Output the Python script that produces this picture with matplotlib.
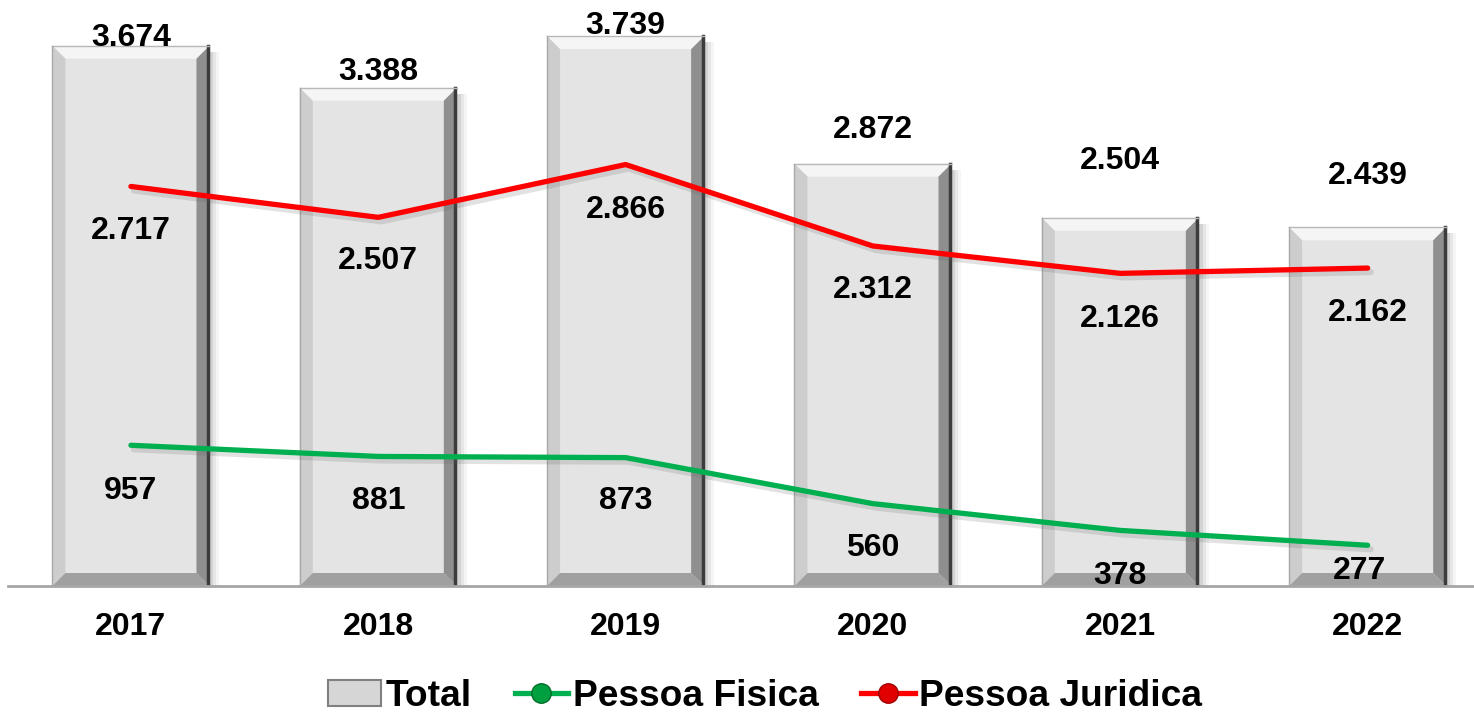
import matplotlib
matplotlib.use("Agg")
import matplotlib.pyplot as plt
from matplotlib.patches import Polygon, Rectangle
from matplotlib.lines import Line2D
import numpy as np

# dados
anos = ["2017", "2018", "2019", "2020", "2021", "2022"]
total = [3674, 3388, 3739, 2872, 2504, 2439]
pessoa_fisica = [957, 881, 873, 560, 378, 277]
pessoa_juridica = [2717, 2507, 2866, 2312, 2126, 2162]

# deslocamento vertical do centro dos rotulos (pixels)
off_total = [11, 19.5, 13.5, 37, 60, 55]
off_pf = [-42, -41, -40, -41, -42, -22]
off_pj = [-41, -40, -42, -40, -42, -41]


def fmt(v):
    return f"{v:,}".replace(",", ".")


plt.rcParams['font.family'] = ['Liberation Sans', 'DejaVu Sans']
plt.rcParams['font.weight'] = 'bold'

W, H = 1474, 712
fig = plt.figure(figsize=(W / 100, H / 100), dpi=100)
ax = fig.add_axes([8 / W, 126 / H, 1 - 8 / W, 586 / H])

x = np.arange(len(anos))
ax.set_xlim(-0.497, 5.43)
ax.set_ylim(0, 3985)

# escala px -> dados
px_x = (5.43 + 0.497) / (W - 8)
px_y = 3985 / 586.0

largura = 0.635
bev_x = 13 * px_x
bev_y = 13 * px_y

for xi, v in zip(x, total):
    l, r = xi - largura / 2, xi + largura / 2
    # sombra
    for k, a in [(10, 0.08), (7, 0.12), (4, 0.18)]:
        ax.add_patch(Rectangle((l + k * px_x, -2 * px_y), largura, v - 4 * px_y,
                               facecolor='#808080', alpha=a, lw=0, zorder=1))
    ax.bar(xi, v, width=largura, color='#e4e4e4', lw=0, zorder=2)
    # chanfros
    top = Polygon([(l, v), (r, v), (r - bev_x, v - bev_y), (l + bev_x, v - bev_y)],
                  facecolor='#f5f5f5', lw=0, zorder=3)
    esq = Polygon([(l, v), (l + bev_x, v - bev_y), (l + bev_x, bev_y), (l, 0)],
                  facecolor='#cdcdcd', lw=0, zorder=3)
    dir_ = Polygon([(r, v), (r - bev_x, v - bev_y), (r - bev_x, bev_y), (r, 0)],
                   facecolor='#8f8f8f', lw=0, zorder=3)
    baixo = Polygon([(l, 0), (r, 0), (r - bev_x, bev_y), (l + bev_x, bev_y)],
                    facecolor='#a0a0a0', lw=0, zorder=3)
    for p in (top, esq, dir_, baixo):
        ax.add_patch(p)
    ax.plot([r - 1.5 * px_x, r - 1.5 * px_x], [0, v], color='#3c3c3c', lw=2.5, zorder=4)
    ax.plot([l, r], [v, v], color='#b8b8b8', lw=1, zorder=4)
    ax.plot([l, l], [0, v], color='#a8a8a8', lw=1, zorder=4)

# linhas com sombra leve
for serie, cor in [(pessoa_fisica, '#00b050'), (pessoa_juridica, '#ff0000')]:
    ax.plot(x + 3 * px_x, np.array(serie) - 4 * px_y, color='#606060', alpha=0.18,
            lw=4.5, solid_capstyle='round', zorder=5)
    ax.plot(x, serie, color=cor, lw=3.8, solid_capstyle='round', zorder=6)

fs = 23
cap = 11.5  # metade da altura dos digitos em px
for xi, v, o in zip(x, total, off_total):
    ax.text(xi, v + (o - cap) * px_y, fmt(v), ha='center', va='baseline', fontsize=fs,
            fontweight='bold', zorder=7)
for xi, v, o in zip(x, pessoa_juridica, off_pj):
    ax.text(xi, v + (o - cap) * px_y, fmt(v), ha='center', va='baseline', fontsize=fs,
            fontweight='bold', zorder=7)
for xi, v, o in zip(x, pessoa_fisica, off_pf):
    ax.text(xi - (8 * px_x if o > -30 else 0), v + (o - cap) * px_y, fmt(v), ha='center',
            va='baseline', fontsize=fs, fontweight='bold', zorder=7)

ax.set_xticks(x)
ax.set_xticklabels(anos, fontsize=fs, fontweight='bold')
ax.tick_params(axis='x', length=0, pad=19)
ax.set_yticks([])
for s in ['top', 'right', 'left']:
    ax.spines[s].set_visible(False)
ax.spines['bottom'].set_color('#a6a6a6')
ax.spines['bottom'].set_linewidth(2)
ax.spines['bottom'].set_zorder(8)

handles = [
    Rectangle((0, 0), 1, 1, facecolor='#d6d6d6', edgecolor='#808080', lw=1.5),
    Line2D([], [], color='#00b050', lw=3.8, marker='o', markersize=14,
           markerfacecolor='#00a040', markeredgecolor='#006e2a'),
    Line2D([], [], color='#ff0000', lw=3.8, marker='o', markersize=14,
           markerfacecolor='#e00000', markeredgecolor='#a00000'),
]
fig.legend(handles, ["Total", "Pessoa Fisica", "Pessoa Juridica"], loc='lower center',
           bbox_to_anchor=(0.519, -0.05), ncol=3, frameon=False,
           prop={'size': 26.7, 'weight': 'bold'}, handlelength=1.45, handletextpad=0.12,
           columnspacing=1.15)

fig.savefig("out.png", dpi=100)
